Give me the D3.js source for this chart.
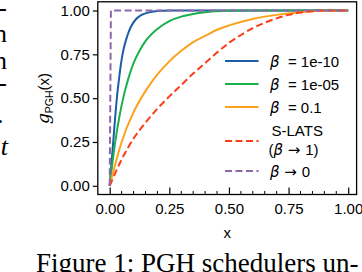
<!DOCTYPE html>
<html>
<head>
<meta charset="utf-8">
<script src="https://cdn.jsdelivr.net/npm/d3@7"></script>
<style>
  html, body { margin: 0; padding: 0; background: #fff; }
  svg { display: block; }
  .tick text { font-family: "Liberation Sans", Arial, sans-serif; font-size: 15px; fill: #000; }
</style>
</head>
<body>
<div id="chart"></div>
<script>
// series values: [x, g(x)]
const beta1e10 = [[0,0],[0.01,0.17],[0.02,0.34],[0.03,0.5],[0.04,0.62],[0.05,0.72],[0.06,0.79],[0.075,0.86],[0.09,0.91],[0.11,0.95],[0.13,0.972],[0.16,0.988],[0.2,0.997],[0.25,1],[1,1]];
const beta1e05 = [[0,0],[0.02,0.22],[0.04,0.39],[0.06,0.52],[0.08,0.62],[0.1,0.7],[0.125,0.77],[0.15,0.825],[0.2,0.895],[0.25,0.94],[0.3,0.965],[0.35,0.98],[0.4,0.99],[0.5,0.998],[0.6,1],[1,1]];
const beta01 = [[0,0],[0.05,0.25],[0.1,0.42],[0.15,0.54],[0.2,0.635],[0.25,0.71],[0.3,0.77],[0.35,0.82],[0.4,0.855],[0.45,0.89],[0.5,0.915],[0.6,0.952],[0.7,0.975],[0.8,0.99],[0.9,0.998],[1,1]];
const slats = [[0,0],[0.05,0.15],[0.1,0.27],[0.15,0.36],[0.2,0.44],[0.25,0.51],[0.3,0.575],[0.35,0.64],[0.4,0.7],[0.45,0.76],[0.5,0.815],[0.55,0.86],[0.6,0.9],[0.65,0.93],[0.7,0.955],[0.75,0.975],[0.8,0.988],[0.85,0.996],[0.9,1],[1,1]];
const betaZero = [[0,0],[0.005,1],[1,1]];

const xTicks = [0, 0.25, 0.5, 0.75, 1];
const xMinor = d3.range(0, 21).map(i => i * 0.05);
const yTicks = [0, 0.25, 0.5, 0.75, 1];

const W = 362, H = 272;
const svg = d3.select('#chart').append('svg').attr('width', W).attr('height', H);

const x = d3.scaleLinear().domain([0, 1]).range([109.7, 348.2]);
const y = d3.scaleLinear().domain([0, 1]).range([185.8, 10.5]);
const box = { l: 97.8, r: 356.6, t: 1.8, b: 194.5 };

const series = [
  { data: beta1e10, color: '#1b5ea6', dash: null },
  { data: beta1e05, color: '#19b04b', dash: null },
  { data: beta01, color: '#fca21f', dash: null },
  { data: slats, color: '#fd3d17', dash: '7,3.5' },
  { data: betaZero, color: '#8c68aa', dash: '7,3.5', linear: true }
];

// clip curves to axes box
svg.append('clipPath').attr('id', 'clip').append('rect')
  .attr('x', box.l).attr('y', box.t).attr('width', box.r - box.l).attr('height', box.b - box.t);

const plot = svg.append('g').attr('clip-path', 'url(#clip)');
series.forEach(s => {
  const line = d3.line().x(d => x(d[0])).y(d => y(d[1]))
    .curve(s.linear ? d3.curveLinear : d3.curveMonotoneX);
  plot.append('path').datum(s.data)
    .attr('d', line)
    .attr('fill', 'none')
    .attr('stroke', s.color)
    .attr('stroke-width', 2)
    .attr('stroke-dasharray', s.dash);
});

// x axis: ticks point inward
const xAxis = svg.append('g').attr('transform', `translate(0,${box.b})`)
  .call(d3.axisBottom(x).tickValues(xTicks).tickFormat(d3.format('.2f')).tickSize(-7).tickPadding(9));
xAxis.select('.domain').remove();
svg.append('g').attr('transform', `translate(0,${box.b})`)
  .selectAll('line').data(xMinor.filter(v => !xTicks.includes(+v.toFixed(2))))
  .join('line')
  .attr('x1', d => x(d)).attr('x2', d => x(d))
  .attr('y1', 0).attr('y2', -3.5)
  .attr('stroke', '#000').attr('stroke-width', 1);

// y axis: ticks point outward
const yAxis = svg.append('g').attr('transform', `translate(${box.l},0)`)
  .call(d3.axisLeft(y).tickValues(yTicks).tickFormat(d3.format('.2f')).tickSize(5).tickPadding(3));
yAxis.select('.domain').remove();
svg.selectAll('.tick line').attr('stroke-width', 1.2);

// frame
svg.append('rect')
  .attr('x', box.l).attr('y', box.t)
  .attr('width', box.r - box.l).attr('height', box.b - box.t)
  .attr('fill', 'none').attr('stroke', '#000').attr('stroke-width', 1.3);

// axis labels
svg.append('text')
  .attr('x', (box.l + box.r) / 2).attr('y', 238)
  .attr('text-anchor', 'middle')
  .style('font-family', '"Liberation Sans", Arial, sans-serif').style('font-size', '15px')
  .text('x');

const ylab = svg.append('text')
  .attr('transform', 'translate(49,98.5) rotate(-90)')
  .attr('text-anchor', 'middle')
  .style('font-family', '"Liberation Sans", Arial, sans-serif').style('font-size', '15px');
ylab.append('tspan').style('font-family', '"DejaVu Serif", serif').style('font-style', 'italic').style('font-size', '17px').text('g');
ylab.append('tspan').attr('dy', 4).style('font-size', '10.5px').text('PGH');
ylab.append('tspan').attr('dy', -4).text('(x)');

// legend
const legendRows = [61, 84, 107, 141, 171];
const legendFont = '"Liberation Sans", Arial, sans-serif';
series.forEach((s, i) => {
  const ly = legendRows[i];
  svg.append('line')
    .attr('x1', 225).attr('x2', 258.5).attr('y1', ly).attr('y2', ly)
    .attr('stroke', s.color).attr('stroke-width', 2)
    .attr('stroke-dasharray', s.dash);
});

function legendText(ty, parts) {
  const t = svg.append('text').attr('x', 270).attr('y', ty)
    .style('font-family', legendFont).style('font-size', '15px').attr('fill', '#000');
  parts.forEach(p => {
    const ts = t.append('tspan').text(p.s);
    if (p.math) ts.style('font-family', '"DejaVu Sans", sans-serif').style('font-style', 'italic');
    if (p.arrow) ts.style('font-family', '"DejaVu Sans", sans-serif');
    if (p.x != null) ts.attr('x', p.x);
  });
}
legendText(66.5, [{ s: 'β', math: true }, { s: '\u00a0\u00a0= 1e-10' }]);
legendText(89.5, [{ s: 'β', math: true }, { s: '\u00a0\u00a0= 1e-05' }]);
legendText(112.5, [{ s: 'β', math: true }, { s: '\u00a0\u00a0= 0.1' }]);
legendText(136, [{ s: 'S-LATS', x: 271.5 }]);
legendText(154.5, [{ s: '(', x: 268.5 }, { s: 'β', math: true }, { s: '\u00a0→\u00a0', arrow: true }, { s: '1)' }]);
legendText(177, [{ s: 'β', math: true }, { s: '\u00a0→\u00a0', arrow: true }, { s: '0' }]);

// surrounding page text (column fragments and caption)
const serif = '"Liberation Serif", "Times New Roman", serif';
const leftFrags = [
  { s: '-', x: 7, y: 16 },
  { s: 'n', x: 7, y: 41.7 },
  { s: 'n', x: 7, y: 69.3 },
  { s: '-', x: 7, y: 91 },
  { s: '.', x: 3.5, y: 122.7 },
  { s: 't', x: 8, y: 155, italic: true }
];
svg.selectAll('.frag').data(leftFrags).join('text')
  .attr('class', 'frag')
  .attr('x', d => d.x).attr('y', d => d.y)
  .attr('text-anchor', 'end')
  .style('font-family', serif).style('font-size', '26px')
  .style('font-style', d => d.italic ? 'italic' : 'normal')
  .text(d => d.s);

svg.append('text')
  .attr('x', 36).attr('y', 272)
  .style('font-family', serif).style('font-size', '27px')
  .text('Figure 1: PGH schedulers un-');
</script>
</body>
</html>
